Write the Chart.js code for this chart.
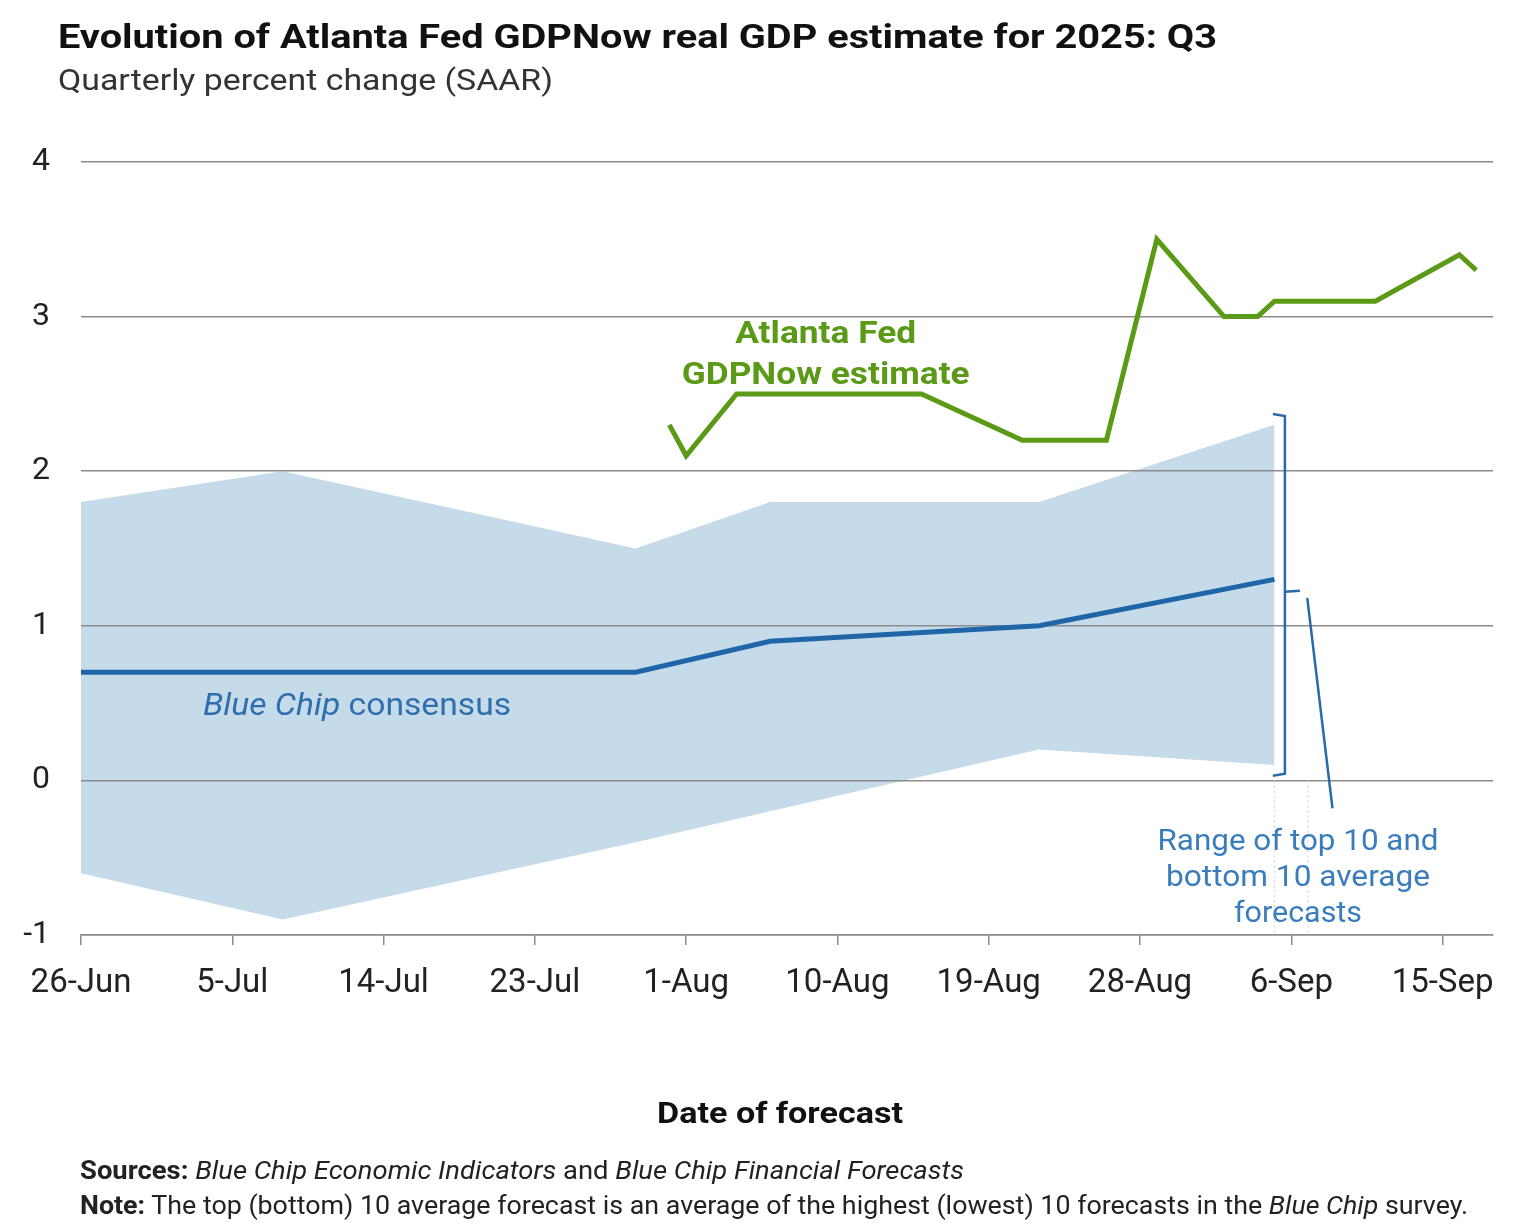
<!DOCTYPE html>
<html><head><meta charset="utf-8">
<script src="https://cdn.jsdelivr.net/npm/chart.js@4.4.1/dist/chart.umd.min.js"></script>
<style>
html,body{margin:0;padding:0;background:#fff;width:1536px;height:1229px;overflow:hidden;font-family:Roboto,"Noto Sans",sans-serif;}
#wrap{position:relative;width:1536px;height:1229px;}
canvas{position:absolute;left:0;top:0;}
.t{position:absolute;white-space:nowrap;line-height:1;transform-origin:0 50%;color:#111;}
</style></head><body>
<div id="wrap">
<canvas id="c" width="1536" height="1229"></canvas>
<div class="t" data-w="1159" style="left:58px;top:19px;font-size:34px;font-weight:700;">Evolution of Atlanta Fed GDPNow real GDP estimate for 2025: Q3</div>
<div class="t" data-w="495" style="left:58px;top:65px;font-size:30px;color:#333;">Quarterly percent change (SAAR)</div>
<div class="t" data-w="246" style="left:657px;top:1098px;font-size:30px;font-weight:700;">Date of forecast</div>
<div class="t" data-w="884" style="left:80px;top:1158px;font-size:25px;color:#222;"><b>Sources:</b> <i>Blue Chip Economic Indicators</i> and <i>Blue Chip Financial Forecasts</i></div>
<div class="t" data-w="1388" style="left:80px;top:1193px;font-size:25px;color:#222;"><b>Note:</b> The top (bottom) 10 average forecast is an average of the highest (lowest) 10 forecasts in the <i>Blue Chip</i> survey.</div>
</div>
<script>
// ---- data ----
const bcDates = ['2025-06-26','2025-07-08','2025-07-29','2025-08-06','2025-08-22','2025-09-05'];
const bcConsensus = [0.7, 0.7, 0.7, 0.9, 1.0, 1.3];
const bcTop10 = [1.8, 2.0, 1.5, 1.8, 1.8, 2.3];
const bcBottom10 = [-0.6, -0.9, -0.4, -0.2, 0.2, 0.1];
const gdpNowDates = ['2025-07-31','2025-08-01','2025-08-04','2025-08-15','2025-08-21','2025-08-26','2025-08-29','2025-09-02','2025-09-04','2025-09-05','2025-09-11','2025-09-16','2025-09-17'];
const gdpNowValues = [2.3, 2.1, 2.5, 2.5, 2.2, 2.2, 3.5, 3.0, 3.0, 3.1, 3.1, 3.4, 3.3];
const xTickDates = ['2025-06-26','2025-07-05','2025-07-14','2025-07-23','2025-08-01','2025-08-10','2025-08-19','2025-08-28','2025-09-06','2025-09-15'];
const xAxisStart = '2025-06-26';
const xAxisEnd = '2025-09-18';
const yTicks = [-1, 0, 1, 2, 3, 4];
const monthNames = ['Jan','Feb','Mar','Apr','May','Jun','Jul','Aug','Sep','Oct','Nov','Dec'];

// ---- helpers ----
const base = Date.parse(xAxisStart + 'T00:00:00Z');
const dayOf = s => (Date.parse(s + 'T00:00:00Z') - base) / 864e5;
const fmtDay = v => { const d = new Date(base + v * 864e5); return d.getUTCDate() + '-' + monthNames[d.getUTCMonth()]; };
const pts = (dates, vals) => dates.map((d, i) => ({x: dayOf(d), y: vals[i]}));

const FONT = 'Roboto, "Noto Sans", sans-serif';
const GREEN = '#5b9a17', BLUE = '#1f66a8', BAND = '#c6dbea', GRID = '#8c8c8c';

// draw runs of [text, font] stretched horizontally to a target width
function fitRuns(ctx, runs, x, y, targetW, align) {
  let total = 0;
  const widths = runs.map(([t, f]) => { ctx.font = f; const w = ctx.measureText(t).width; total += w; return w; });
  const k = targetW / total;
  let left = align === 'center' ? x - targetW / 2 : x;
  ctx.save();
  ctx.textAlign = 'left'; ctx.textBaseline = 'middle';
  ctx.translate(left, y); ctx.scale(k, 1);
  let cx = 0;
  runs.forEach(([t, f], i) => { ctx.font = f; ctx.fillText(t, cx, 0); cx += widths[i]; });
  ctx.restore();
}

const annot = {
  id: 'annot',
  afterDatasetsDraw(chart) {
    const {ctx, scales: {x, y}} = chart;
    const X = d => x.getPixelForValue(d), Y = v => y.getPixelForValue(v);
    ctx.save();
    // faint dotted leader lines
    ctx.strokeStyle = '#d4d4d4'; ctx.lineWidth = 1.2; ctx.setLineDash([2, 3]);
    [71, 73].forEach(d => { ctx.beginPath(); ctx.moveTo(X(d), Y(0)); ctx.lineTo(X(d), Y(-1)); ctx.stroke(); });
    ctx.setLineDash([]);
    // green label
    ctx.fillStyle = GREEN;
    const gb = 'bold 31px ' + FONT;
    fitRuns(ctx, [['Atlanta Fed', gb]], X(44.3), Y(2.88), 181, 'center');
    fitRuns(ctx, [['GDPNow estimate', gb]], X(44.3), Y(2.615), 288, 'center');
    // blue chip consensus label
    ctx.fillStyle = '#2f6fad';
    fitRuns(ctx, [['Blue Chip ', 'italic 31px ' + FONT], ['consensus', '31px ' + FONT]], X(7.26), Y(0.475), 308, 'left');
    // bracket
    ctx.strokeStyle = '#2a6aa8'; ctx.lineWidth = 2.5;
    const bx = X(71.62), bt = Y(2.37), bb = Y(0.03), bm = Y(1.22);
    ctx.beginPath();
    ctx.moveTo(bx - 12, bt); ctx.lineTo(bx, bt + 2); ctx.lineTo(bx, bb - 2); ctx.lineTo(bx - 12, bb);
    ctx.moveTo(bx, bm); ctx.lineTo(bx + 15, bm - 1);
    ctx.stroke();
    ctx.beginPath();
    ctx.moveTo(X(72.95), Y(1.18)); ctx.lineTo(X(74.45), Y(-0.18));
    ctx.stroke();
    // range label
    ctx.fillStyle = '#3a7dbd';
    const rf = '30px ' + FONT, rx = X(72.4);
    fitRuns(ctx, [['Range of top 10 and', rf]], rx, Y(-0.40), 281, 'center');
    fitRuns(ctx, [['bottom 10 average', rf]], rx, Y(-0.635), 264, 'center');
    fitRuns(ctx, [['forecasts', rf]], rx, Y(-0.87), 128, 'center');
    ctx.restore();
  }
};

new Chart(document.getElementById('c'), {
  type: 'line',
  data: {
    datasets: [
      {label: 'Top 10 average', data: pts(bcDates, bcTop10), borderWidth: 0, pointRadius: 0, backgroundColor: BAND, borderColor: 'rgba(0,0,0,0)', fill: '+1'},
      {label: 'Bottom 10 average', data: pts(bcDates, bcBottom10), borderWidth: 0, pointRadius: 0, borderColor: 'rgba(0,0,0,0)', fill: false},
      {label: 'Blue Chip consensus', data: pts(bcDates, bcConsensus), borderColor: BLUE, borderWidth: 5, pointRadius: 0, fill: false},
      {label: 'Atlanta Fed GDPNow estimate', data: pts(gdpNowDates, gdpNowValues), borderColor: GREEN, borderWidth: 5, pointRadius: 0, fill: false}
    ]
  },
  options: {
    responsive: false, animation: false, devicePixelRatio: 1,
    layout: {padding: {left: 0, right: 43, top: 162, bottom: 0}},
    plugins: {legend: {display: false}, tooltip: {enabled: false}, filler: {drawTime: 'beforeDraw'}},
    scales: {
      x: {
        type: 'linear', min: 0, max: dayOf(xAxisEnd),
        afterBuildTicks: s => { s.ticks = xTickDates.map(d => ({value: dayOf(d)})); },
        afterFit: s => { s.height = 294; },
        ticks: {callback: v => fmtDay(v), font: {size: 33, family: FONT}, color: '#222', padding: 19, maxRotation: 0, autoSkip: false},
        grid: {drawOnChartArea: false, drawTicks: true, tickLength: 10, color: GRID, lineWidth: 1.5},
        border: {display: true, color: GRID, width: 1.5}
      },
      y: {
        min: -1, max: 4,
        afterBuildTicks: s => { s.ticks = yTicks.map(v => ({value: v})); },
        afterFit: s => { s.width = 81; },
        ticks: {font: {size: 32, family: FONT}, color: '#222', padding: 31},
        grid: {color: GRID, lineWidth: 1.5, drawTicks: false},
        border: {display: false}
      }
    }
  },
  plugins: [annot]
});

// fit HTML text widths to reference
document.querySelectorAll('.t[data-w]').forEach(el => {
  const w = el.getBoundingClientRect().width;
  const target = +el.dataset.w;
  if (w > 0) el.style.transform = 'scaleX(' + (target / w).toFixed(4) + ')';
});
</script>
</body></html>
